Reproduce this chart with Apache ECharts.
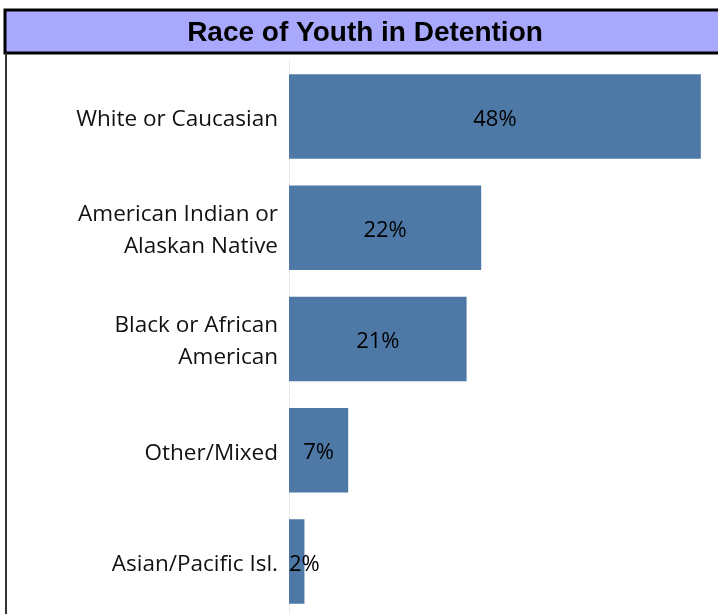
<!DOCTYPE html>
<html>
<head>
<meta charset="utf-8">
<script src="https://cdn.jsdelivr.net/npm/echarts@6/dist/echarts.min.js"></script>
<style>
  html, body { margin: 0; padding: 0; background: #fff; }
  #chart { width: 718px; height: 614px; }
</style>
</head>
<body>
<div id="chart"></div>
<script>
var categories = ['White or Caucasian', 'American Indian or\nAlaskan Native', 'Black or African\nAmerican', 'Other/Mixed', 'Asian/Pacific Isl.'];
var shares = [48, 22.4, 20.7, 6.9, 1.8];
var xTicks = [0, 10, 20, 30, 40, 50];

var chart = echarts.init(document.getElementById('chart'));

var barData = shares.map(function (v) {
    var item = { value: v };
    if (v < 4) {
        item.label = { position: 'insideLeft', distance: 0 };
    }
    return item;
});

option = {
    animation: false,
    title: {
        text: 'Race of Youth in Detention',
        left: 360,
        textAlign: 'center',
        top: 14,
        textStyle: {
            fontFamily: 'Liberation Sans',
            fontWeight: 'bold',
            fontSize: 28,
            color: '#000'
        }
    },
    graphic: [{
        type: 'rect',
        z: -1,
        shape: { x: 5, y: 10, width: 720, height: 43 },
        style: { fill: '#a8a8fc', stroke: '#000', lineWidth: 3 }
    }, {
        type: 'line',
        shape: { x1: 6, y1: 53, x2: 6, y2: 614 },
        style: { stroke: '#333', lineWidth: 2 }
    }],
    grid: {
        left: 289,
        right: 0,
        top: 61,
        height: 556,
        outerBoundsMode: 'none'
    },
    xAxis: {
        type: 'value',
        min: xTicks[0],
        max: xTicks[xTicks.length - 1],
        interval: 10,
        show: false
    },
    yAxis: {
        type: 'category',
        inverse: true,
        data: categories,
        axisTick: { show: false },
        axisLine: {
            show: true,
            lineStyle: { color: '#e4e4e4', type: 'dashed', width: 1 }
        },
        axisLabel: {
            margin: 11,
            align: 'right',
            formatter: function (v) {
                return v.split('\n').map(function (s) { return '{a|' + s + '}'; }).join('\n');
            },
            rich: {
                a: {
                    fontFamily: 'Open Sans',
                    fontSize: 22.5,
                    lineHeight: 32,
                    padding: [6, 0, 0, 0],
                    color: '#111'
                }
            }
        }
    },
    series: [{
        type: 'bar',
        data: barData,
        barCategoryGap: '24%',
        itemStyle: { color: '#4e79a7' },
        label: {
            show: true,
            position: 'inside',
            formatter: function (p) { return '{a|' + Math.round(p.value) + '%}'; },
            rich: {
                a: {
                    fontFamily: 'Open Sans',
                    fontSize: 22,
                    padding: [6, 0, 0, 0],
                    color: '#000'
                }
            }
        }
    }]
};
chart.setOption(option);
</script>
</body>
</html>
